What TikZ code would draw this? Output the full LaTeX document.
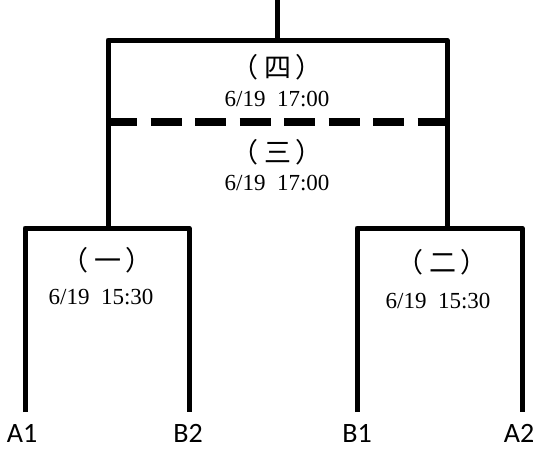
\documentclass[tikz,border=0pt]{standalone}
\usepackage{fontspec}
\setmainfont{Liberation Serif}
\newfontfamily\cjk{Noto Sans CJK TC}
\newfontfamily\labfont{Carlito}
\newcommand{\rnd}[1]{（\hspace{6pt}#1\hspace{4pt}）}
\begin{document}
\begin{tikzpicture}[x=1pt,y=-1pt,
  bline/.style={line width=5pt,line join=round,line cap=butt},
  dline/.style={line width=8pt,dash pattern=on 31pt off 13.5pt},
  round/.style={font=\cjk\fontsize{27}{27}\selectfont,inner sep=0pt},
  datetxt/.style={font=\fontsize{23}{23}\selectfont,inner sep=0pt},
  team/.style={font=\labfont\fontsize{28}{28}\selectfont,inner sep=0pt}]
\useasboundingbox (0,0) rectangle (536,450);
% coordinates
\coordinate (top) at (277,0);
\coordinate (tm) at (277,40);
\coordinate (tl) at (108,40);
\coordinate (tr) at (447,40);
\coordinate (lm) at (108,228);
\coordinate (rm) at (447,228);
\coordinate (ll) at (25,228);
\coordinate (lr) at (189,228);
\coordinate (rl) at (357,228);
\coordinate (rr) at (522,228);
\coordinate (llb) at (25,412);
\coordinate (lrb) at (189,412);
\coordinate (rlb) at (357,412);
\coordinate (rrb) at (522,412);
\coordinate (dl) at (106,122);
\coordinate (dr) at (448.5,122);
% lines
\draw[bline] (top) -- (tm);
\draw[bline] (lm) -- (tl) -- (tr) -- (rm);
\draw[bline] (llb) -- (ll) -- (lr) -- (lrb);
\draw[bline] (rlb) -- (rl) -- (rr) -- (rrb);
\draw[dline] (dl) -- (dr);
% labels
\node[round] (r4) at (277,67) {\rnd{四}};
\node[datetxt] (d4) at (277,99) {6/19\ \ 17:00};
\node[round] (r3) at (277,152) {\rnd{三}};
\node[datetxt] (d3) at (277,183) {6/19\ \ 17:00};
\node[round] (r1) at (107,260) {\rnd{一}};
\node[datetxt] (d1) at (101,297) {6/19\ \ 15:30};
\node[round] (r2) at (442,262) {\rnd{二}};
\node[datetxt] (d2) at (438,301) {6/19\ \ 15:30};
\node[team] (a1) at (22,433) {A1};
\node[team] (b2) at (188,433) {B2};
\node[team] (b1) at (357,433) {B1};
\node[team] (a2) at (519,433) {A2};
\end{tikzpicture}
\end{document}
